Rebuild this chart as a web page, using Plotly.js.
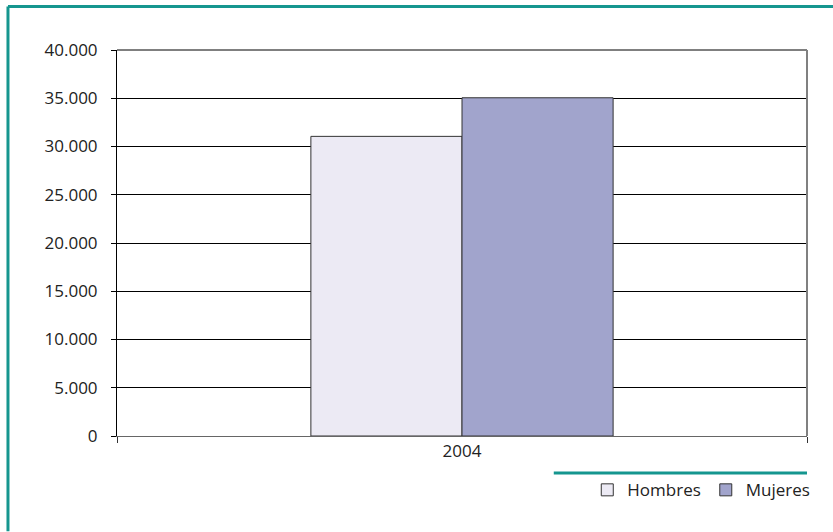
<!DOCTYPE html>
<html>
<head>
<meta charset="utf-8">
<script src="https://cdn.plot.ly/plotly-3.0.1.min.js"></script>
<style>
html,body{margin:0;padding:0;background:#fff;}
#chart{width:833px;height:532px;}
</style>
</head>
<body>
<div id="chart"></div>
<script>
const categories = ["2004"];
const seriesNames = ["Hombres", "Mujeres"];
const hombres = [31050];
const mujeres = [35050];
const yTicks = [0, 5000, 10000, 15000, 20000, 25000, 30000, 35000, 40000];

const FONT = "Open Sans, Noto Sans, sans-serif";
const TEAL = "#15968f";

const traces = [
  {type: "bar", name: seriesNames[0], x: categories, y: hombres,
   marker: {color: "#ECEAF4", line: {color: "#333333", width: 1}}},
  {type: "bar", name: seriesNames[1], x: categories, y: mujeres,
   marker: {color: "#A1A4CC", line: {color: "#333333", width: 1}}}
];

const layout = {
  width: 833, height: 532,
  margin: {l: 117, r: 26, t: 50, b: 96},
  paper_bgcolor: "#fff", plot_bgcolor: "#fff",
  separators: ",.",
  font: {family: FONT, size: 17, color: "#222"},
  barmode: "group",
  bargap: 0.562, bargroupgap: 0,
  showlegend: true,
  legend: {orientation: "h", x: 1.012, xanchor: "right", y: -0.094, yanchor: "top",
           font: {family: FONT, size: 17, color: "#222"}, traceorder: "normal",
           bgcolor: "rgba(0,0,0,0)", itemwidth: 30},
  xaxis: {type: "category", range: [-0.5, 0.5], showgrid: false, zeroline: false,
          showline: true, linecolor: "#666", linewidth: 1,
          ticks: "outside", tickson: "boundaries", ticklen: 6, tickcolor: "#333",
          tickfont: {family: FONT, size: 17, color: "#222"}, fixedrange: true},
  yaxis: {range: [0, 40000], tickvals: yTicks, tickformat: ",d",
          showgrid: true, gridcolor: "#000", gridwidth: 1,
          zeroline: false, showline: true, linecolor: "#000", linewidth: 1,
          ticks: "outside", ticklen: 5, tickcolor: "#000", ticklabelstandoff: 10,
          tickfont: {family: FONT, size: 17, color: "#222"}, fixedrange: true},
  shapes: [
    {type: "line", xref: "paper", yref: "paper", x0: 0, x1: 1, y0: 1, y1: 1,
     line: {color: "#000", width: 1}},
    {type: "line", xref: "paper", yref: "paper", x0: 1, x1: 1, y0: 0, y1: 1,
     line: {color: "#808080", width: 2}},
    {type: "line", xref: "paper", yref: "paper", x0: 0.633, x1: 1, y0: -0.096, y1: -0.096,
     line: {color: TEAL, width: 3}},
    {type: "line", xref: "paper", yref: "paper", x0: -0.158, x1: -0.158, y0: -0.247, y1: 1.113,
     line: {color: TEAL, width: 3}},
    {type: "line", xref: "paper", yref: "paper", x0: -0.158, x1: 1.05, y0: 1.113, y1: 1.113,
     line: {color: TEAL, width: 3}}
  ]
};

Plotly.newPlot("chart", traces, layout, {displayModeBar: false, staticPlot: true});
</script>
</body>
</html>
